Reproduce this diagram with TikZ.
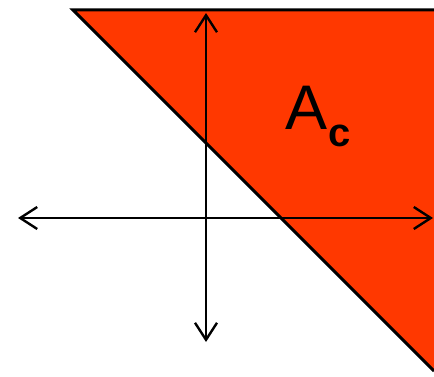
\documentclass[tikz,border=0pt]{standalone}
\usepackage{fontspec}
\setmainfont{Liberation Sans}
\usetikzlibrary{arrows.meta}
\definecolor{regionred}{RGB}{255,56,0}

\begin{document}
\begin{tikzpicture}[
  x=1pt, y=-1pt,
  axis/.style={{Straight Barb[length=17pt,width=22pt]}-{Straight Barb[length=17pt,width=22pt]}, line width=2.4pt},
  edge/.style={line width=3pt, line join=miter}
]
\useasboundingbox (0,0) rectangle (434,377);
% region A_c
\coordinate (tl) at (73,10);
\coordinate (tr) at (434,10);
\coordinate (br) at (434,371);
\fill[regionred] (tl) -- (tr) -- (br) -- cycle;
\draw[edge] (tr) -- (tl) -- (br);
% axes
\coordinate (xl) at (18,218);
\coordinate (xr) at (433,218);
\coordinate (yt) at (206,13);
\coordinate (yb) at (206,342);
\draw[axis] (xl) -- (xr);
\draw[axis] (yb) -- (yt);
% label
\node (lab) at (318,117) {\fontsize{63}{63}\selectfont A\kern1pt\raisebox{-17pt}{\fontsize{40}{40}\selectfont\bfseries c}};
\end{tikzpicture}
\end{document}
